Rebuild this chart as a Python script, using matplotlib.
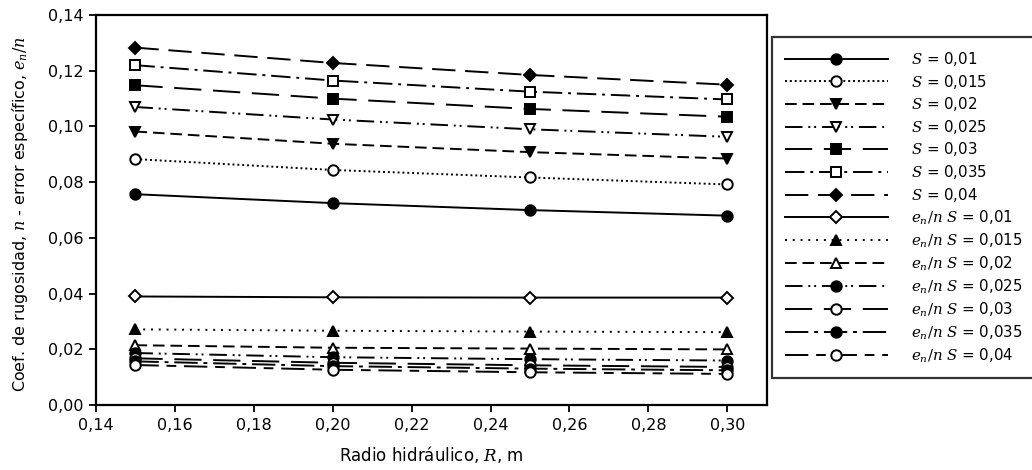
import numpy as np
import matplotlib
matplotlib.use('Agg')
import matplotlib.pyplot as plt
from matplotlib.ticker import FuncFormatter, MultipleLocator

plt.rcParams['font.family'] = ['DejaVu Sans']
plt.rcParams['mathtext.fontset'] = 'custom'
plt.rcParams['mathtext.it'] = 'DejaVu Serif:italic'
plt.rcParams['mathtext.rm'] = 'DejaVu Serif'

# datos
radio = [0.15, 0.20, 0.25, 0.30]

n_s001 = [0.0757, 0.0725, 0.0700, 0.0680]
n_s0015 = [0.0883, 0.0844, 0.0817, 0.0792]
n_s002 = [0.0982, 0.0938, 0.0908, 0.0885]
n_s0025 = [0.1070, 0.1025, 0.0990, 0.0963]
n_s003 = [0.1148, 0.1100, 0.1063, 0.1035]
n_s0035 = [0.1220, 0.1165, 0.1125, 0.1097]
n_s004 = [0.1283, 0.1228, 0.1185, 0.1150]

e_s001 = [0.0390, 0.0387, 0.0386, 0.0386]
e_s0015 = [0.0272, 0.0267, 0.0264, 0.0262]
e_s002 = [0.0215, 0.0206, 0.0203, 0.0200]
e_s0025 = [0.0187, 0.0172, 0.0165, 0.0160]
e_s003 = [0.0168, 0.0152, 0.0143, 0.0137]
e_s0035 = [0.0157, 0.0140, 0.0131, 0.0125]
e_s004 = [0.0144, 0.0127, 0.0118, 0.0112]

etiquetas = ['$S$ = 0,01', '$S$ = 0,015', '$S$ = 0,02', '$S$ = 0,025',
             '$S$ = 0,03', '$S$ = 0,035', '$S$ = 0,04',
             '$e_n/n$ $S$ = 0,01', '$e_n/n$ $S$ = 0,015', '$e_n/n$ $S$ = 0,02',
             '$e_n/n$ $S$ = 0,025', '$e_n/n$ $S$ = 0,03', '$e_n/n$ $S$ = 0,035',
             '$e_n/n$ $S$ = 0,04']
series = [n_s001, n_s0015, n_s002, n_s0025, n_s003, n_s0035, n_s004,
          e_s001, e_s0015, e_s002, e_s0025, e_s003, e_s0035, e_s004]

# estilo: (linestyle, marker, relleno)
estilos = [
    ('-', 'o', 'k'),
    ((0, (1, 1.5)), 'o', 'w'),
    ((0, (6, 3)), 'v', 'k'),
    ((0, (9, 3, 1, 2, 1, 3)), 'v', 'w'),
    ((0, (14, 6)), 's', 'k'),
    ((0, (10, 3, 1.5, 3)), 's', 'w'),
    ((0, (12, 5)), 'D', 'k'),
    ('-', 'D', 'w'),
    ((0, (1, 3)), '^', 'k'),
    ((0, (6, 3)), '^', 'w'),
    ((0, (9, 3, 1, 2, 1, 3)), 'o', 'k'),
    ((0, (14, 6)), 'o', 'w'),
    ((0, (12, 3, 2, 3)), 'o', 'k'),
    ((0, (12, 4, 5, 4)), 'o', 'w'),
]

fig = plt.figure(figsize=(10.32, 4.70), dpi=100)
ax = fig.add_axes([0.093, 0.138, 0.650, 0.830])

for y, lab, (ls, mk, fc) in zip(series, etiquetas, estilos):
    ms = 6.5 if mk == 'D' else 7.5
    ax.plot(radio, y, linestyle=ls, marker=mk, color='k', markerfacecolor=fc,
            markeredgecolor='k', markeredgewidth=1.4, markersize=ms, linewidth=1.4,
            label=lab)

ax.set_xlim(0.14, 0.31)
ax.set_ylim(0.0, 0.14)
ax.yaxis.set_major_locator(MultipleLocator(0.02))
coma = FuncFormatter(lambda v, p: f"{v:.2f}".replace('.', ','))
ax.set_xticks([0.14, 0.16, 0.18, 0.20, 0.22, 0.24, 0.26, 0.28, 0.30])
ax.xaxis.set_major_formatter(coma)
ax.yaxis.set_major_formatter(coma)
ax.tick_params(direction='out', length=5, width=1.3, labelsize=11.5, pad=4)
for sp in ax.spines.values():
    sp.set_linewidth(1.6)

ax.set_xlabel('Radio hidráulico, $R$, m', fontsize=12)
ax.xaxis.set_label_coords(0.5, -0.100)
ax.set_ylabel('Coef. de rugosidad, $n$ - error específico, $e_n/n$', fontsize=11.5)
ax.yaxis.set_label_coords(-0.098, 0.49)

leg = ax.legend(loc='upper left', bbox_to_anchor=(0.748, 0.921),
                bbox_transform=fig.transFigure, fontsize=10.8, handlelength=6.9,
                numpoints=1, labelspacing=0.31, frameon=True, fancybox=False,
                borderpad=0.85, handletextpad=1.55, borderaxespad=0)
leg.get_frame().set_edgecolor('k')
leg.get_frame().set_linewidth(1.6)

fig.savefig('out.png', dpi=100)
